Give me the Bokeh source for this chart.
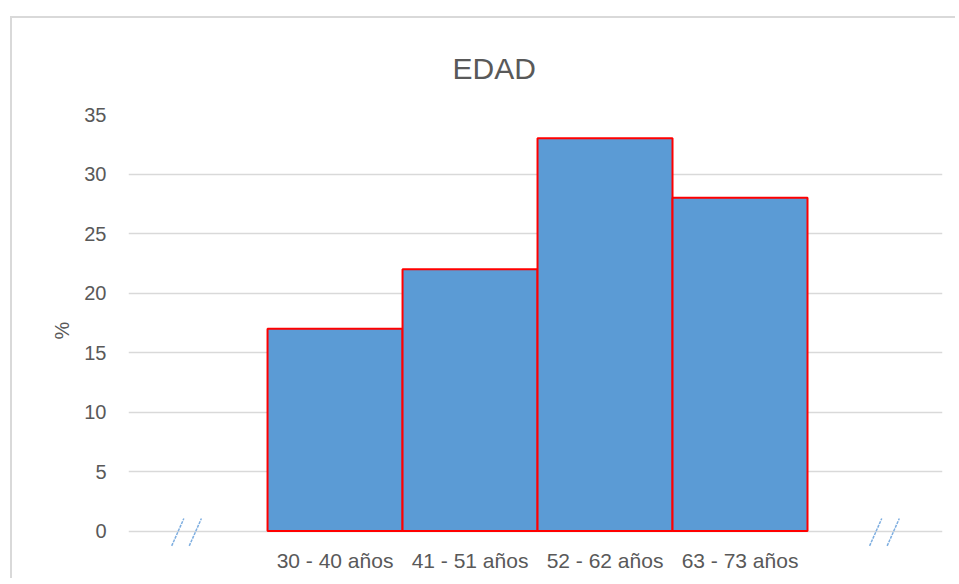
from bokeh.plotting import figure
from bokeh.models import FixedTicker, Range1d, Title
from bokeh.embed import file_html
from bokeh.resources import INLINE

# ---- data ----
categories = ["30 - 40 años", "41 - 51 años", "52 - 62 años", "63 - 73 años"]
values = [17, 22, 33, 28]
y_ticks = [0, 5, 10, 15, 20, 25, 30, 35]
title_text = "EDAD"
y_label = "%"
break_centers = [-0.10, 5.07]   # axis-break marks "//" positions (category units)

positions = list(range(1, len(categories) + 1))

p = figure(width=945, height=562, output_backend="svg", toolbar_location=None,
           x_range=Range1d(-0.53, 5.50), y_range=Range1d(-1.3, 35),
           min_border_left=116, min_border_right=15, min_border_top=96,
           min_border_bottom=34)
p.styles = {"border-left": "2px solid #d9d9d9", "border-top": "2px solid #d9d9d9",
            "margin-left": "10px", "margin-top": "16px"}
p.outline_line_color = None
p.background_fill_color = "white"
p.border_fill_color = "white"

# title
p.title = Title(text=title_text, align="left", offset=324, text_font="Liberation Sans",
                text_font_size="30px", text_font_style="normal", text_color="#595959",
                standoff=60)

# bars
p.quad(left=[x - 0.5 for x in positions], right=[x + 0.5 for x in positions],
       bottom=[0] * len(values), top=values,
       fill_color="#5B9BD5", line_color="#FF0000", line_width=2)

# break marks
xs0, ys0, xs1, ys1 = [], [], [], []
for c in break_centers:
    for off in (-0.065, 0.065):
        xs0.append(c + off - 0.045)
        ys0.append(-1.25)
        xs1.append(c + off + 0.045)
        ys1.append(1.05)
p.segment(x0=xs0, y0=ys0, x1=xs1, y1=ys1, line_color="#7EAEE0",
          line_width=1.5, line_dash="3 1")

# axes
p.xaxis.ticker = FixedTicker(ticks=positions)
p.xaxis.major_label_overrides = {pos: c for pos, c in zip(positions, categories)}
p.xaxis.axis_line_color = None
p.xaxis.major_tick_line_color = None
p.xaxis.minor_tick_line_color = None
p.xaxis.major_label_text_font = "Liberation Sans"
p.xaxis.major_label_text_font_size = "21px"
p.xaxis.major_label_text_color = "#595959"
p.xaxis.major_label_standoff = -4

p.yaxis.ticker = FixedTicker(ticks=y_ticks)
p.yaxis.axis_line_color = None
p.yaxis.major_tick_line_color = None
p.yaxis.minor_tick_line_color = None
p.yaxis.major_label_text_font = "Liberation Sans"
p.yaxis.major_label_text_font_size = "20px"
p.yaxis.major_label_text_color = "#595959"
p.yaxis.major_label_standoff = 16
p.yaxis.axis_label = y_label
p.yaxis.axis_label_text_font = "Liberation Sans"
p.yaxis.axis_label_text_font_size = "20px"
p.yaxis.axis_label_text_font_style = "normal"
p.yaxis.axis_label_text_color = "#595959"
p.yaxis.axis_label_standoff = 8

p.xgrid.grid_line_color = None
p.ygrid.ticker = FixedTicker(ticks=y_ticks)
p.ygrid.grid_line_color = "#d9d9d9"
p.ygrid.grid_line_width = 1.5

open("out.html", "w").write(file_html(p, INLINE))
